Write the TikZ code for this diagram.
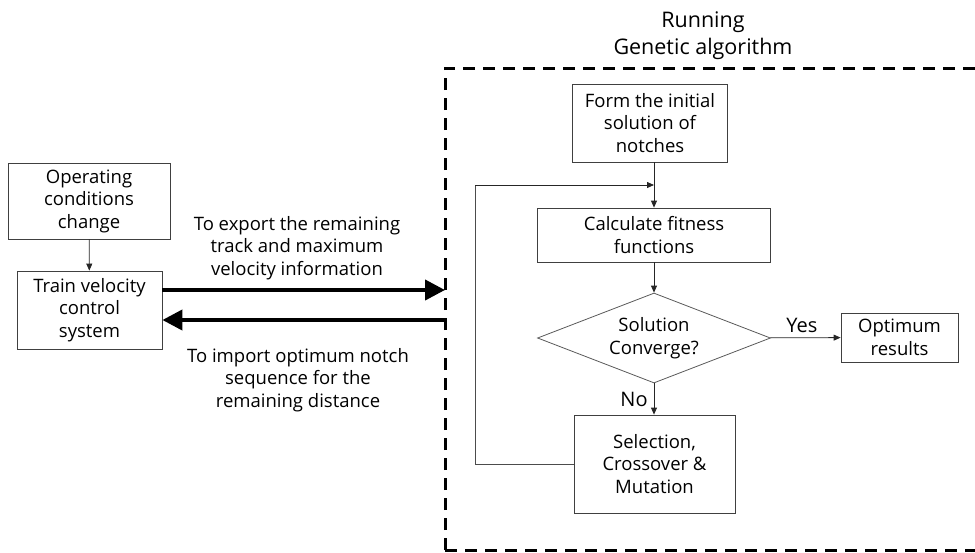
\documentclass[tikz,border=0pt]{standalone}
\usepackage{fontspec}
\setmainfont{Open Sans}
\usetikzlibrary{arrows.meta,shapes.geometric}
\begin{document}
\begin{tikzpicture}[x=1pt,y=-1pt,
  every node/.style={font=\fontsize{18.5}{22.5}\selectfont, align=center, text=black},
  box/.style={draw=black!75, line width=0.8pt, inner sep=0pt},
  conn/.style={draw=black!85, line width=0.8pt, -{Triangle[length=7pt,width=6pt]}},
  thick arrow/.style={draw=black, line width=4pt, -{Triangle[length=20pt,width=20pt]}},
  lbl/.style={inner sep=0pt},
  big/.style={font=\fontsize{21.5}{27}\selectfont},
  yn/.style={font=\fontsize{20}{24}\selectfont}]
\useasboundingbox (0,0) rectangle (975,552);
\begin{scope}
\clip (0,0) rectangle (975,552);
\draw[line width=3pt, dash pattern=on 12pt off 8pt] (445,550) -- (445,68) -- (990,68);
\draw[line width=3pt, dash pattern=on 12pt off 8pt] (445,550) -- (990,550);
\end{scope}
% title
\node[lbl, big] (title) at (703,35.5) {Running\\Genetic algorithm};
% left boxes
\node[box, minimum width=162pt, minimum height=76pt] (op) at (89,201) {Operating\\conditions\\change};
\node[box, minimum width=145pt, minimum height=78pt] (train) at (89.5,310) {Train velocity\\control\\system};
\draw[conn] (op) -- (train);
\coordinate (bR) at (445,290);
\coordinate (bL) at (445,320);
\draw[thick arrow] (train.east |- bR) -- (bR);
\draw[thick arrow] (bL) -- (train.east |- bL);
\node[lbl] (exp) at (297,248) {To export the remaining\\track and maximum\\velocity information};
\node[lbl] (imp) at (298,380) {To import optimum notch\\sequence for the\\remaining distance};
% GA
\node[box, minimum width=155pt, minimum height=78pt] (form) at (650,123) {Form the initial\\solution of\\notches};
\node[box, minimum width=233pt, minimum height=54pt] (calc) at (654,235) {Calculate fitness\\functions};
\node[draw=black!65, line width=0.8pt, diamond, aspect=2.6, minimum width=233pt, minimum height=90pt, inner sep=0pt] (dec) at (654,338) {Solution\\Converge?};
\node[box, minimum width=117pt, minimum height=49pt] (opt) at (899.5,337.5) {Optimum\\results};
\node[box, minimum width=161pt, minimum height=98pt] (sel) at (654.5,464) {Selection,\\Crossover \&\\Mutation};
\coordinate (j) at (654,185);
\coordinate (lc) at (475,185);
\draw[draw=black!85, line width=0.8pt] (form.south -| j) -- (j);
\draw[conn] (j) -- (calc.north -| j);
\draw[conn] (calc) -- (dec);
\draw[conn] (dec) -- (opt) node[lbl, yn, pos=0.45, above=5pt] (yes) {Yes};
\draw[conn] (dec.south) -- (sel.north -| dec.south) node[lbl, yn, midway, left=6pt] (no) {No};
\draw[draw=black!70, line width=0.8pt] (sel.west) -| (lc);
\draw[conn] (lc) -- (j);
\end{tikzpicture}
\end{document}
